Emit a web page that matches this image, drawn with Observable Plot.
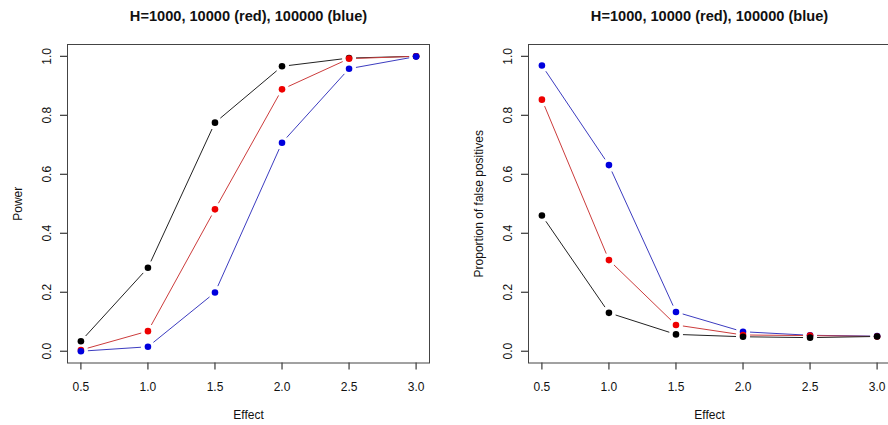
<!DOCTYPE html>
<html>
<head>
<meta charset="utf-8">
<script src="https://cdn.jsdelivr.net/npm/d3@7"></script>
<script src="https://cdn.jsdelivr.net/npm/@observablehq/plot@0.6"></script>
<style>
  html, body { margin: 0; padding: 0; background: #fff; overflow: hidden; }
  #wrap { display: flex; width: 888px; height: 425px; overflow: hidden; }
  #wrap > div, #wrap svg { flex: none; }
</style>
</head>
<body>
<div id="wrap"><div id="left"></div><div id="right"></div></div>
<script>
// ---- data ----
const effect = [0.5, 1.0, 1.5, 2.0, 2.5, 3.0];
const seriesNames = ["H=1000", "H=10000", "H=100000"];
const seriesColors = ["#000000", "#ee0000", "#0000dd"];
const lineColors = ["#222222", "#cc3c3c", "#3c3cc0"];

const powerH1000   = [0.034, 0.283, 0.775, 0.966, 0.994, 1.000];
const powerH10000  = [0.004, 0.068, 0.481, 0.888, 0.992, 1.000];
const powerH100000 = [0.000, 0.015, 0.199, 0.707, 0.958, 0.999];

const fpH1000   = [0.460, 0.130, 0.057, 0.049, 0.046, 0.050];
const fpH10000  = [0.853, 0.309, 0.089, 0.055, 0.053, 0.050];
const fpH100000 = [0.969, 0.631, 0.133, 0.066, 0.054, 0.051];

const xTicks = [0.5, 1.0, 1.5, 2.0, 2.5, 3.0];
const yTicks = [0.0, 0.2, 0.4, 0.6, 0.8, 1.0];
const titleText = "H=1000, 10000 (red), 100000 (blue)";
const xLabel = "Effect";
const yLabelLeft = "Power";
const yLabelRight = "Proportion of false positives";

// ---- helpers ----
function buildPoints(seriesList) {
  const pts = [];
  seriesList.forEach((vals, s) => {
    vals.forEach((v, i) => pts.push({x: effect[i], y: v, s}));
  });
  return pts;
}
function buildSegments(seriesList) {
  const segs = [];
  seriesList.forEach((vals, s) => {
    for (let i = 0; i < vals.length - 1; i++) {
      segs.push({x1: effect[i], y1: vals[i], x2: effect[i + 1], y2: vals[i + 1], s});
    }
  });
  return segs;
}

function panel({seriesList, drawOrder, yLabel, width, marginLeft, marginRight}) {
  const ordered = drawOrder.map(i => seriesList[i]);
  const pts = buildPoints(seriesList).sort((a, b) => drawOrder.indexOf(a.s) - drawOrder.indexOf(b.s));
  const segs = buildSegments(seriesList).sort((a, b) => drawOrder.indexOf(a.s) - drawOrder.indexOf(b.s));
  return Plot.plot({
    width,
    height: 425,
    marginLeft,
    marginRight,
    marginTop: 44,
    marginBottom: 62.5,
    style: {fontFamily: "'Liberation Sans', Arial, sans-serif", fontSize: "12px", background: "#fff", color: "#111"},
    x: {domain: [0.4, 3.1], ticks: xTicks, tickSize: 7, tickFormat: () => "", label: null},
    y: {domain: [-0.04, 1.04], ticks: yTicks, tickSize: 7, tickFormat: () => "", label: null},
    marks: [
      Plot.arrow(segs, {
        x1: "x1", y1: "y1", x2: "x2", y2: "y2",
        stroke: d => lineColors[d.s],
        strokeWidth: 1,
        headLength: 0,
        insetStart: 7,
        insetEnd: 7,
        strokeLinecap: "butt"
      }),
      Plot.dot(pts, {x: "x", y: "y", r: 3.3, fill: d => seriesColors[d.s], stroke: "none"}),
      Plot.frame({stroke: "#444", strokeWidth: 1}),
      // x tick labels
      Plot.text(xTicks, {x: d => d, text: d => d.toFixed(1), frameAnchor: "bottom", dy: 24.5, lineAnchor: "middle", fontSize: 12, fill: "#111"}),
      // y tick labels (rotated like R)
      Plot.text(yTicks, {y: d => d, text: d => d.toFixed(1), frameAnchor: "left", dx: -20.5, rotate: -90, textAnchor: "middle", lineAnchor: "middle", fontSize: 12, fill: "#111"}),
      // axis titles
      Plot.text([xLabel], {text: d => d, frameAnchor: "bottom", dy: 52.5, lineAnchor: "middle", fontSize: 12, fill: "#111"}),
      Plot.text([yLabel], {text: d => d, frameAnchor: "left", dx: -49, rotate: -90, textAnchor: "middle", lineAnchor: "middle", fontSize: 12, fill: "#111"}),
      // main title
      Plot.text([titleText], {text: d => d, frameAnchor: "top", dy: -28.5, lineAnchor: "middle", fontSize: 14.6, fontWeight: "bold", fill: "#111"})
    ]
  });
}

document.getElementById("left").append(panel({
  seriesList: [powerH1000, powerH10000, powerH100000],
  drawOrder: [0, 1, 2],
  yLabel: yLabelLeft,
  width: 444,
  marginLeft: 67,
  marginRight: 15
}));
document.getElementById("right").append(panel({
  seriesList: [fpH1000, fpH10000, fpH100000],
  drawOrder: [2, 1, 0],
  yLabel: yLabelRight,
  width: 447,
  marginLeft: 84,
  marginRight: 1
}));
</script>
</body>
</html>
